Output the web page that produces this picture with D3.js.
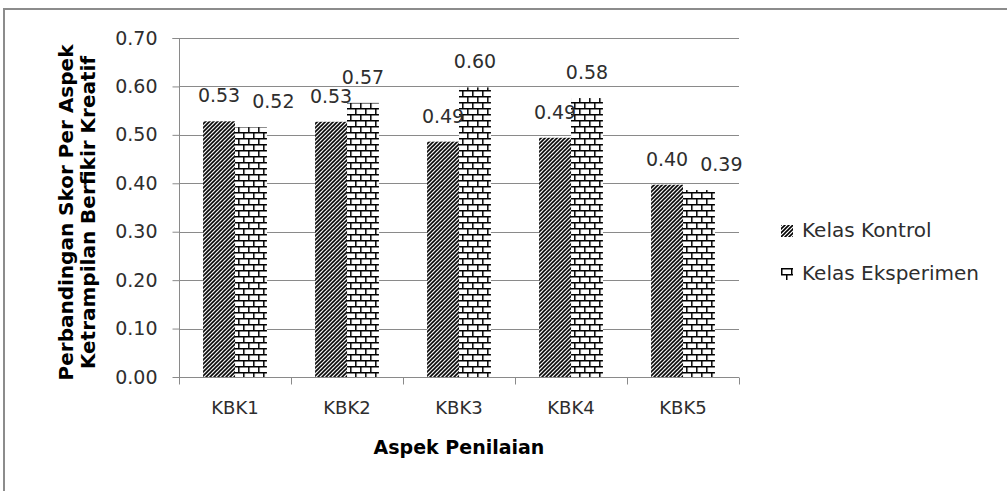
<!DOCTYPE html>
<html>
<head>
<meta charset="utf-8">
<script src="https://cdn.jsdelivr.net/npm/d3@7"></script>
<style>
  body { margin: 0; background: #fff; }
  text { font-family: 'DejaVu Sans', sans-serif; }
</style>
</head>
<body>
<div class="container"></div>
<script>
const categories = ['KBK1', 'KBK2', 'KBK3', 'KBK4', 'KBK5'];
const seriesNames = ['Kelas Kontrol', 'Kelas Eksperimen'];
const kontrol = [0.528, 0.527, 0.486, 0.494, 0.397];
const eksperimen = [0.516, 0.566, 0.598, 0.576, 0.386];
const yTicks = [0, 0.1, 0.2, 0.3, 0.4, 0.5, 0.6, 0.7];

const renderChart = () => {
  const width = 1007;
  const height = 491;
  const plot = { left: 179, right: 739, top: 38, bottom: 377 };
  const gridColor = '#8a8a8a';

  const svg = d3.select('.container').append('svg').attr('width', width).attr('height', height);

  // fill patterns (excel style)
  const defs = svg.append('defs');
  const diag = defs
    .append('pattern')
    .attr('id', 'diag')
    .attr('patternUnits', 'userSpaceOnUse')
    .attr('width', 4)
    .attr('height', 4);
  diag.append('rect').attr('width', 4).attr('height', 4).attr('fill', '#fff');
  diag
    .append('path')
    .attr('d', 'M-1,1 l2,-2 M0,4 l4,-4 M3,5 l2,-2')
    .attr('stroke', '#000')
    .attr('stroke-width', 1.6);

  const brick = defs
    .append('pattern')
    .attr('id', 'brick')
    .attr('patternUnits', 'userSpaceOnUse')
    .attr('width', 10)
    .attr('height', 12);
  brick.append('rect').attr('width', 10).attr('height', 12).attr('fill', '#fff');
  brick
    .append('path')
    .attr('d', 'M0,0.75 H10 M0,6.75 H10 M0.75,0 V6 M5.75,6 V12')
    .attr('stroke', '#000')
    .attr('stroke-width', 1.5);

  const fills = ['url(#diag)', 'url(#brick)'];

  // outer frame
  svg
    .append('rect')
    .attr('x', 4)
    .attr('y', 9)
    .attr('width', 1030)
    .attr('height', 520)
    .attr('fill', 'none')
    .attr('stroke', '#8c8c8c')
    .attr('stroke-width', 2);

  const xScale = d3
    .scaleBand()
    .domain(categories)
    .range([plot.left, plot.right])
    .paddingInner(0.43)
    .paddingOuter(0.215);
  const xInner = d3.scaleBand().domain(seriesNames).range([0, xScale.bandwidth()]);
  const yScale = d3.scaleLinear().domain([0, 0.7]).range([plot.bottom, plot.top]);

  // gridlines
  svg
    .append('g')
    .attr('class', 'grid')
    .selectAll('line')
    .data(yTicks.slice(1))
    .enter()
    .append('line')
    .attr('x1', plot.left)
    .attr('x2', plot.right)
    .attr('y1', d => Math.round(yScale(d)) + 0.5)
    .attr('y2', d => Math.round(yScale(d)) + 0.5)
    .attr('stroke', gridColor);

  // left axis
  const leftAxisGroup = svg.append('g').attr('transform', `translate(${plot.left + 0.5},0)`);
  const leftAxis = d3.axisLeft(yScale).tickValues(yTicks).tickFormat(d3.format('.2f')).tickSize(7).tickPadding(15);
  leftAxis(leftAxisGroup);
  leftAxisGroup.selectAll('line, path').attr('stroke', gridColor);
  leftAxisGroup.select('.domain').attr('d', `M-7,${plot.top + 0.5}H0V${plot.bottom}`);
  leftAxisGroup.selectAll('text').attr('font-size', 19).attr('fill', '#2e2e2e').attr('font-family', 'DejaVu Sans');

  // bottom axis
  const bottomAxisGroup = svg.append('g').attr('transform', `translate(0,${plot.bottom + 0.5})`);
  const bottomAxis = d3.axisBottom(xScale).tickSize(0).tickPadding(24);
  bottomAxis(bottomAxisGroup);
  bottomAxisGroup.select('.domain').attr('stroke', gridColor).attr('d', `M${plot.left},0H${plot.right}`);
  bottomAxisGroup.selectAll('text').attr('font-size', 18).attr('fill', '#2e2e2e').attr('font-family', 'DejaVu Sans');
  const bounds = categories.map(c => xScale(c) - (xScale.step() - xScale.bandwidth()) / 2).concat([plot.right]);
  bottomAxisGroup
    .selectAll('.boundary')
    .data(bounds)
    .enter()
    .append('line')
    .attr('class', 'boundary')
    .attr('x1', d => Math.round(d) + 0.5)
    .attr('x2', d => Math.round(d) + 0.5)
    .attr('y1', 0)
    .attr('y2', 7)
    .attr('stroke', gridColor);

  // bars
  const rows = categories.map((c, i) => ({ cat: c, values: [kontrol[i], eksperimen[i]] }));
  const group = svg
    .append('g')
    .attr('class', 'bars')
    .selectAll('g')
    .data(rows)
    .enter()
    .append('g')
    .attr('transform', d => `translate(${xScale(d.cat)},0)`);

  group
    .selectAll('rect')
    .data(d => d.values.map((v, j) => ({ v, s: seriesNames[j], j })))
    .enter()
    .append('rect')
    .attr('x', d => xInner(d.s))
    .attr('width', xInner.bandwidth())
    .attr('y', d => yScale(d.v))
    .attr('height', d => plot.bottom - yScale(d.v))
    .attr('fill', d => fills[d.j]);

  // data labels, nudge the right one when it would hit the left one
  const labelLayer = svg.append('g').attr('class', 'labels');
  rows.forEach(row => {
    let prev = null;
    row.values.forEach((v, j) => {
      const cx = xScale(row.cat) + xInner(seriesNames[j]) + xInner.bandwidth() / 2;
      const y = yScale(v) - 19;
      const t = labelLayer
        .append('text')
        .attr('x', cx)
        .attr('y', y)
        .attr('text-anchor', 'middle')
        .attr('font-size', 19)
        .attr('fill', '#2e2e2e')
        .text(d3.format('.2f')(v));
      const box = t.node().getBBox();
      if (prev && Math.abs(prev.y - box.y) < box.height * 0.85 && box.x < prev.x + prev.width) {
        const shift = prev.x + prev.width + 12 - box.x;
        t.attr('x', cx + shift);
      }
      prev = t.node().getBBox();
    });
  });

  // legend
  const legend = svg.append('g').attr('class', 'legend');
  const legendItem = legend
    .selectAll('g')
    .data(seriesNames)
    .enter()
    .append('g')
    .attr('transform', (d, i) => `translate(781,${225 + i * 43})`);
  legendItem.append('rect').attr('width', 12).attr('height', 12).attr('fill', (d, i) => fills[i]);
  legendItem
    .append('text')
    .attr('x', 21)
    .attr('y', 12)
    .attr('font-size', 20)
    .attr('fill', '#2e2e2e')
    .text(d => d);

  // axis titles
  svg
    .append('text')
    .text('Aspek Penilaian')
    .attr('x', (plot.left + plot.right) / 2)
    .attr('y', 454)
    .attr('text-anchor', 'middle')
    .attr('font-size', 19)
    .attr('font-weight', 'bold');

  const yTitle = svg
    .append('text')
    .attr('transform', `translate(0,${(plot.top + plot.bottom) / 2 + 5}) rotate(-90)`)
    .attr('text-anchor', 'middle')
    .attr('font-size', 20)
    .attr('font-weight', 'bold');
  yTitle.append('tspan').attr('x', 0).attr('y', 73).text('Perbandingan Skor Per Aspek');
  yTitle.append('tspan').attr('x', 0).attr('y', 95).text('Ketrampilan Berfikir Kreatif');
};

renderChart();
</script>
</body>
</html>
